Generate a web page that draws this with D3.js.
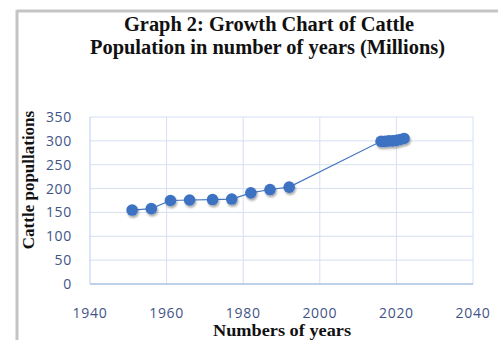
<!DOCTYPE html>
<html lang="en">
  <head>
    <meta charset="UTF-8" />
    <script src="https://cdn.jsdelivr.net/npm/d3@7"></script>
    <style>
      body { margin: 0; background: #fff; }
    </style>
  </head>
  <body>
    <div id="fig"></div>
    <script>
      const width = 498, height = 340;

      // census years and cattle population (millions)
      const years = [1951, 1956, 1961, 1966, 1972, 1977, 1982, 1987, 1992,
                     2016, 2017, 2018, 2019, 2020, 2021, 2022];
      const cattle = [155, 158, 175, 176, 177, 178, 191, 198, 203,
                      299, 299, 300, 300, 301, 303, 305];
      const xTicks = [1940, 1960, 1980, 2000, 2020, 2040];
      const yTicks = [0, 50, 100, 150, 200, 250, 300, 350];

      const data = years.map((y, i) => ({ year: y, value: cattle[i] }));

      const plot = { left: 90, right: 473, top: 117, bottom: 284 };

      const svg = d3.select("#fig").append("svg")
        .attr("width", width).attr("height", height);

      const defs = svg.append("defs");
      const f = defs.append("filter").attr("id", "shadow")
        .attr("x", "-50%").attr("y", "-50%").attr("width", "200%").attr("height", "200%");
      f.append("feDropShadow").attr("dx", 1).attr("dy", 2)
        .attr("stdDeviation", 1.2).attr("flood-color", "#000").attr("flood-opacity", 0.35);

      // page frame lines
      svg.append("line").attr("x1", 17).attr("x2", width).attr("y1", 11).attr("y2", 11)
        .attr("stroke", "#c4c4c4").attr("stroke-width", 3);
      svg.append("line").attr("x1", 17).attr("x2", 17).attr("y1", 10).attr("y2", height)
        .attr("stroke", "#c4c4c4").attr("stroke-width", 3);

      const x = d3.scaleLinear().domain([1940, 2040]).range([plot.left, plot.right]);
      const y = d3.scaleLinear().domain([0, 350]).range([plot.bottom, plot.top]);

      // gridlines
      svg.append("g").selectAll("line").data(yTicks.slice(1)).join("line")
        .attr("x1", plot.left).attr("x2", plot.right)
        .attr("y1", d => y(d)).attr("y2", d => y(d))
        .attr("stroke", "#d5e0f2").attr("stroke-width", 1);
      svg.append("g").selectAll("line").data(xTicks.slice(1)).join("line")
        .attr("x1", d => x(d)).attr("x2", d => x(d))
        .attr("y1", plot.top).attr("y2", plot.bottom)
        .attr("stroke", "#d5e0f2").attr("stroke-width", 1);
      // axes lines
      svg.append("line").attr("x1", plot.left).attr("x2", plot.left)
        .attr("y1", plot.top).attr("y2", plot.bottom)
        .attr("stroke", "#b9cdea").attr("stroke-width", 1);
      svg.append("line").attr("x1", plot.left).attr("x2", plot.right)
        .attr("y1", plot.bottom).attr("y2", plot.bottom)
        .attr("stroke", "#a8c0e6").attr("stroke-width", 1.5);

      // tick labels
      svg.append("g").selectAll("text").data(yTicks).join("text")
        .attr("x", 72).attr("y", d => y(d)).attr("dy", "0.36em")
        .attr("text-anchor", "end")
        .style("font-family", "'Open Sans', sans-serif").style("font-size", "14px")
        .style("letter-spacing", "0.7px")
        .attr("fill", "#3f5486").text(d => d);
      svg.append("g").selectAll("text").data(xTicks).join("text")
        .attr("x", d => x(d)).attr("y", 313).attr("dy", "0.36em")
        .attr("text-anchor", "middle")
        .style("font-family", "'Open Sans', sans-serif").style("font-size", "14px")
        .style("letter-spacing", "0.7px")
        .attr("fill", "#3f5486").text(d => d);

      // series
      svg.append("path").datum(data)
        .attr("d", d3.line().x(d => x(d.year)).y(d => y(d.value)))
        .attr("fill", "none").attr("stroke", "#4677c2").attr("stroke-width", 1.2);
      svg.append("g").attr("filter", "url(#shadow)")
        .selectAll("circle").data(data).join("circle")
        .attr("cx", d => x(d.year)).attr("cy", d => y(d.value)).attr("r", 5.8)
        .attr("fill", "#3d72c2");

      // titles
      const serif = "'Liberation Serif', 'Times New Roman', serif";
      const title = svg.append("text").attr("text-anchor", "middle")
        .style("font-family", serif).style("font-weight", "bold")
        .style("font-size", "20.5px").attr("fill", "#111");
      title.append("tspan").attr("x", 269).attr("y", 31)
        .attr("textLength", 290).attr("lengthAdjust", "spacingAndGlyphs")
        .text("Graph 2: Growth Chart of Cattle");
      title.append("tspan").attr("x", 267.5).attr("y", 54)
        .attr("textLength", 355).attr("lengthAdjust", "spacingAndGlyphs")
        .text("Population in number of years (Millions)");

      svg.append("text")
        .attr("transform", "translate(34,180) rotate(-90)")
        .attr("text-anchor", "middle")
        .style("font-family", serif).style("font-weight", "bold")
        .style("font-size", "17px").attr("fill", "#111")
        .text("Cattle popullations");

      svg.append("text").attr("x", 282).attr("y", 336).attr("text-anchor", "middle")
        .style("font-family", serif).style("font-weight", "bold")
        .style("font-size", "16px").attr("fill", "#111")
        .attr("textLength", 138).attr("lengthAdjust", "spacingAndGlyphs")
        .text("Numbers of years");
    </script>
  </body>
</html>
